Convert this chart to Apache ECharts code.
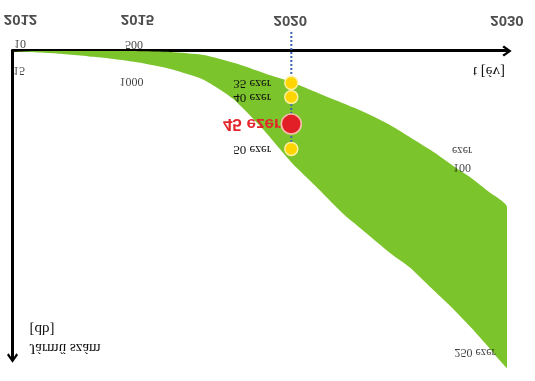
<!DOCTYPE html>
<html>
<head>
<meta charset="utf-8">
<script src="https://cdn.jsdelivr.net/npm/echarts@6/dist/echarts.min.js"></script>
<style>
  html, body { margin: 0; padding: 0; background: #fff; }
  /* the reference picture is the original schematic mirrored top-to-bottom */
  #chart { width: 535px; height: 381px; transform: scaleY(-1); }
</style>
</head>
<body>
<div id="chart"></div>
<script>
// ---------------- data (schematic chart) ----------------
// time axis is schematic: drawn on a log scale of "years since 2001"
const yearOffset = 2001;
const tickYears = [2012, 2015, 2020, 2030];

// vehicle-count band, schematic height units (0 = axis, 100 = end of the axis arrow)
const bandYears = [2012, 2013, 2014, 2015, 2016, 2017, 2018, 2019, 2020, 2021,
                   2022, 2023, 2024, 2025, 2026, 2027, 2028, 2029, 2030];
const bandLow  = [0, 0, 0, 0, 0.3, 1.3, 3.9, 7.2, 10.1, 13.6,
                  16.9, 20.2, 23.9, 28.2, 32.4, 37.0, 41.2, 45.9, 50.8];
const bandHigh = [0, 0.8, 2.0, 3.6, 5.9, 9.4, 16.0, 25.7, 36.2, 44.6,
                  52.8, 59.3, 65.5, 70.7, 77.2, 83.4, 89.9, 96.7, 103.3];

// 2020 milestones
const milestoneYear = 2020;
const milestoneLabels = ['35 ezer', '40 ezer', '45 ezer', '50 ezer'];
const milestoneValues = [10.4, 15.0, 23.8, 31.9];
const milestoneKind = ['minor', 'minor', 'main', 'minor'];
const guideStart = -6.2; // guide line starts at the year label

// band-edge annotations
const edgeLabelYears = [2012, 2012, 2015, 2015, 2030, 2030];
const edgeLabelSide  = ['low', 'high', 'low', 'high', 'low', 'high'];
const edgeLabelTexts = ['10', '15', '500', '1000', '100\nezer', '250 ezer'];

const xAxisTitle = 't [év]';
const yAxisTitle = 'Jármű szám\n[db]';

// ---------------- styling ----------------
const serif = "'Liberation Serif', 'Times New Roman', serif";
const sans = "'Liberation Sans', Arial, sans-serif";
const green = '#7cc42c';
const yearLabelOffsets = [[8, 32], [2, 32], [-1, 31], [0, 31]];
const edgeLabelOffsets = [[7.5, 7.5], [6.5, -19], [-1.5, 7], [-4, -19.5], [-45, 48], [-32, 16]];
const chevron = 'path://M5,0 L10,7 L8.5,8.5 L5,3.2 L1.5,8.5 L0,7 Z';

const tx = y => y - yearOffset;
const edgeValue = (year, side) => {
  const i = bandYears.indexOf(year);
  return side === 'low' ? bandLow[i] : bandHigh[i];
};

const chart = echarts.init(document.getElementById('chart'), null, { renderer: 'canvas' });

chart.setOption({
  animation: false,
  backgroundColor: '#fff',
  title: {
    text: xAxisTitle,
    right: 30,
    top: 303,
    padding: 0,
    textStyle: { fontFamily: serif, fontSize: 15, fontWeight: 'normal', color: '#111' }
  },
  grid: { left: 12.5, right: 28, top: 23, bottom: 51 },
  xAxis: {
    type: 'log',
    min: tx(2012),
    max: tx(2030),
    axisLabel: { show: false },
    axisTick: { show: false },
    splitLine: { show: false },
    axisLine: {
      lineStyle: { color: '#000', width: 3 },
      symbol: ['none', chevron],
      symbolSize: [11, 10]
    }
  },
  yAxis: {
    type: 'value',
    min: 0,
    max: 100,
    axisLabel: { show: false },
    axisTick: { show: false },
    splitLine: { show: false },
    axisLine: {
      lineStyle: { color: '#000', width: 3 },
      symbol: ['none', chevron],
      symbolSize: [11, 10]
    },
    name: yAxisTitle,
    nameLocation: 'end',
    nameGap: -1,
    nameTextStyle: {
      fontFamily: serif, fontSize: 15, color: '#111', lineHeight: 19,
      align: 'left', verticalAlign: 'top', padding: [0, 0, 0, 17]
    }
  },
  series: [
    {
      name: 'band',
      type: 'custom',
      coordinateSystem: 'cartesian2d',
      data: [[tx(bandYears[0]), bandLow[0]]],
      silent: true,
      z: 1,
      renderItem: (params, api) => {
        const pts = [];
        bandYears.forEach((y, i) => pts.push(api.coord([tx(y), bandLow[i]])));
        for (let i = bandYears.length - 1; i >= 0; i--) {
          pts.push(api.coord([tx(bandYears[i]), bandHigh[i]]));
        }
        const xs = pts.map(p => p[0]);
        const ys = pts.map(p => p[1]);
        const box = [[Math.min(...xs), Math.min(...ys)], [Math.max(...xs), Math.max(...ys)]];
        return {
          type: 'polygon',
          shape: { points: pts, smooth: 0.2, smoothConstraint: box },
          style: { fill: green }
        };
      }
    },
    {
      name: 'guide',
      type: 'line',
      data: [[tx(milestoneYear), guideStart], [tx(milestoneYear), milestoneValues[milestoneValues.length - 1]]],
      symbol: 'none',
      clip: false,
      silent: true,
      lineStyle: { color: '#3f64ad', width: 2, type: [2, 2] },
      z: 3
    },
    {
      name: 'milestones',
      type: 'scatter',
      clip: false,
      silent: true,
      z: 5,
      data: milestoneValues.map((v, i) => {
        const main = milestoneKind[i] === 'main';
        return {
          value: [tx(milestoneYear), v],
          symbolSize: main ? 20 : 13,
          itemStyle: main
            ? { color: '#e21f26', borderColor: '#f8c0b0', borderWidth: 1.5, opacity: 1 }
            : { color: '#ffd500', borderColor: '#fff0a0', borderWidth: 1.5, opacity: 1 },
          label: main
            ? { distance: 0, fontFamily: sans, fontWeight: 'bold', fontSize: 17, color: '#e3262b' }
            : { distance: 13, fontFamily: serif, fontSize: 13, color: '#111' }
        };
      }),
      label: {
        show: true,
        position: 'left',
        formatter: p => milestoneLabels[p.dataIndex]
      }
    },
    {
      name: 'edgeLabels',
      type: 'scatter',
      clip: false,
      silent: true,
      symbolSize: 1,
      itemStyle: { color: 'transparent' },
      z: 6,
      data: edgeLabelYears.map((y, i) => ({
        value: [tx(y), edgeValue(y, edgeLabelSide[i])],
        label: { offset: edgeLabelOffsets[i] }
      })),
      label: {
        show: true,
        position: 'inside',
        align: 'center',
        verticalAlign: 'middle',
        fontFamily: serif,
        fontSize: 12,
        lineHeight: 17,
        color: '#111',
        formatter: p => edgeLabelTexts[p.dataIndex]
      }
    },
    {
      name: 'yearLabels',
      type: 'scatter',
      clip: false,
      silent: true,
      symbolSize: 1,
      itemStyle: { color: 'transparent' },
      z: 6,
      data: tickYears.map((y, i) => ({
        value: [tx(y), 0],
        label: { offset: yearLabelOffsets[i] }
      })),
      label: {
        show: true,
        position: 'inside',
        align: 'center',
        verticalAlign: 'middle',
        fontFamily: sans,
        fontWeight: 'bold',
        fontSize: 15,
        color: '#222',
        formatter: p => String(tickYears[p.dataIndex])
      }
    }
  ]
});
</script>
</body>
</html>
